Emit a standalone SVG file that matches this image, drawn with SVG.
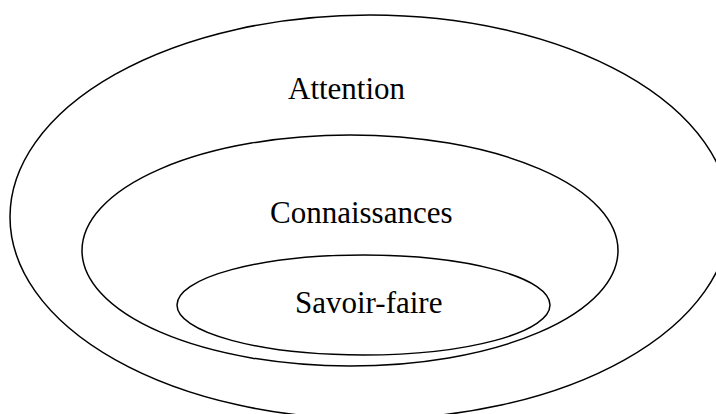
<svg xmlns="http://www.w3.org/2000/svg" width="716" height="414" viewBox="0 0 716 414">
<style>
.e{fill:none;stroke:#000;stroke-width:1.5}
.t{font-family:"Liberation Serif","Times New Roman",serif;font-size:31px;fill:#000}
</style>
<rect width="716" height="414" fill="#fff"/>
<g id="attention">
<ellipse class="e" cx="370" cy="217" rx="360" ry="202"/>
<text class="t" x="288" y="99">Attention</text>
</g>
<g id="connaissances">
<ellipse class="e" cx="350" cy="250.5" rx="268" ry="115.5"/>
<text class="t" x="270" y="223">Connaissances</text>
</g>
<g id="savoir-faire">
<ellipse class="e" cx="363.5" cy="305" rx="186.5" ry="50"/>
<text class="t" x="295" y="313">Savoir-faire</text>
</g>
<g id="connectors"></g>
</svg>
